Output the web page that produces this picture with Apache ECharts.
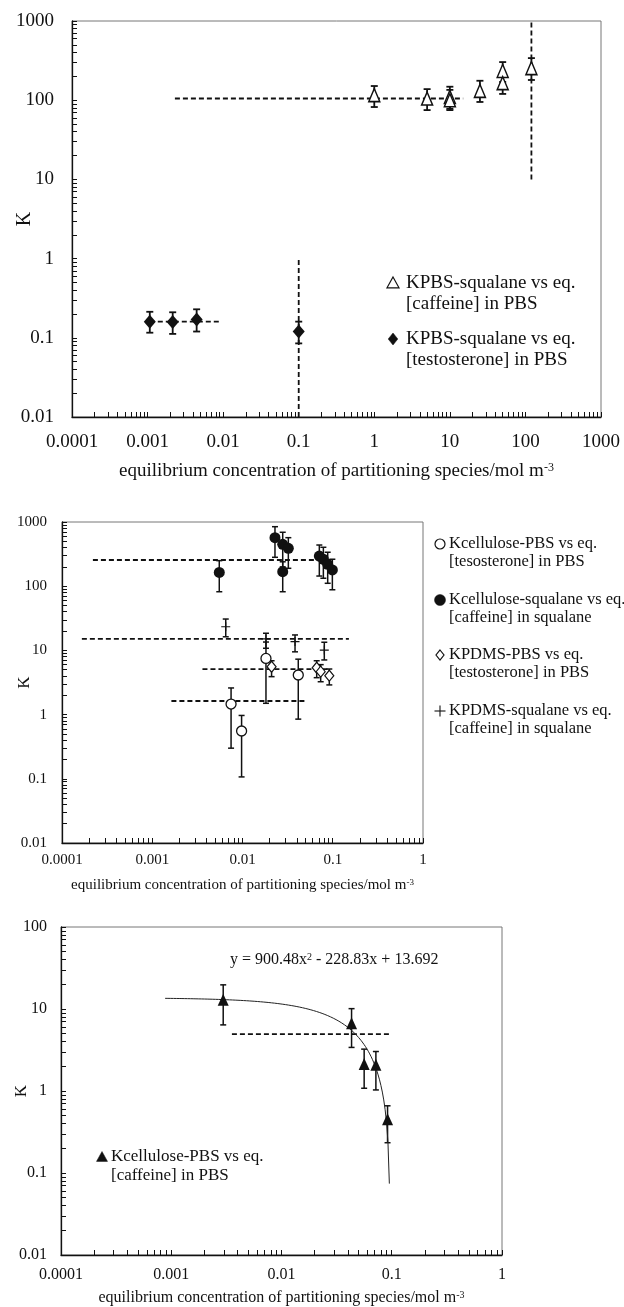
<!DOCTYPE html>
<html>
<head>
<meta charset="utf-8">
<script src="https://cdn.jsdelivr.net/npm/echarts@6/dist/echarts.min.js"></script>
<style>
  html, body { margin: 0; padding: 0; background: #fff; }
  #chart { width: 624px; height: 1307px; }
</style>
</head>
<body>
<div id="chart"></div>
<script>
// ---- Tick labels -------------------------------------------------------
const X1_LABELS = ['0.0001', '0.001', '0.01', '0.1', '1', '10', '100', '1000'];
const Y1_LABELS = ['0.01', '0.1', '1', '10', '100', '1000'];
const X2_LABELS = ['0.0001', '0.001', '0.01', '0.1', '1'];
const Y2_LABELS = ['0.01', '0.1', '1', '10', '100', '1000'];
const X3_LABELS = ['0.0001', '0.001', '0.01', '0.1', '1'];
const Y3_LABELS = ['0.01', '0.1', '1', '10', '100'];

// ---- Panel 1: K(PBS-squalane) ----  rows: [concentration, K, K low, K high]
const P1_CAFFEINE = [
  [1, 116, 82, 151],
  [5, 105, 75, 138],
  [10, 110, 78, 148],
  [10, 100, 75, 135],
  [25, 131, 95, 176],
  [50, 234, 170, 303],
  [50, 164, 120, 210],
  [120, 254, 180, 340]
];
const P1_TESTOSTERONE = [
  [0.00107, 0.160, 0.116, 0.213],
  [0.00215, 0.158, 0.112, 0.210],
  [0.00446, 0.170, 0.120, 0.229],
  [0.1, 0.120, 0.085, 0.160]
];
const P1_CAFFEINE_MEAN = [[0.0023, 105], [15, 105]];
const P1_TESTOSTERONE_MEAN = [[0.00107, 0.16], [0.009, 0.16]];
const P1_TESTOSTERONE_LIMIT = [[0.1, 0.01], [0.1, 1]];
const P1_CAFFEINE_LIMIT = [[120, 10], [120, 1000]];

// ---- Panel 2: cellulose and PDMS ----
const P2_CELL_PBS = [
  [0.00747, 1.46, 0.30, 2.6],
  [0.00977, 0.555, 0.107, 0.97],
  [0.0182, 7.5, 1.5, 13.5],
  [0.0415, 4.14, 0.85, 7.3]
];
const P2_CELL_SQUALANE = [
  [0.00553, 164, 82, 250],
  [0.0229, 570, 282, 845],
  [0.0279, 449, 200, 692],
  [0.0322, 389, 190, 570],
  [0.0279, 168, 82, 240],
  [0.071, 295, 144, 438],
  [0.0787, 263, 133, 404],
  [0.0879, 219, 111, 338],
  [0.099, 179, 88, 263]
];
const P2_PDMS_PBS = [
  [0.021, 5.57, 3.9, 6.9],
  [0.0664, 5.37, 3.76, 6.9],
  [0.0735, 4.67, 3.25, 6.0],
  [0.0916, 4.04, 2.9, 5.13]
];
const P2_PDMS_SQUALANE = [
  [0.00652, 23.4, 16.3, 30.8],
  [0.0182, 15.1, 10.8, 18.5],
  [0.0382, 13.7, 9.5, 17.4],
  [0.0806, 10.1, 7.1, 13.4]
];
const P2_CELL_SQUALANE_MEAN = [[0.00022, 256], [0.095, 256]];
const P2_PDMS_SQUALANE_MEAN = [[0.000166, 15.1], [0.151, 15.1]];
const P2_PDMS_PBS_MEAN = [[0.0036, 5.1], [0.094, 5.1]];
const P2_CELL_PBS_MEAN = [[0.00163, 1.63], [0.0506, 1.63]];

// ---- Panel 3: K(cellulose-PBS), caffeine ----
const P3_CELL_PBS = [
  [0.00296, 13.0, 6.4, 19.7],
  [0.0432, 6.7, 3.4, 10.1],
  [0.0562, 2.14, 1.08, 3.24],
  [0.0718, 2.09, 1.03, 3.03],
  [0.0916, 0.452, 0.234, 0.66]
];
const P3_MEAN = [[0.00355, 4.95], [0.0996, 4.95]];
// quadratic trendline y = a x^2 + b x + c, and the x span it covers
const P3_FIT = [900.48, -228.83, 13.692];
const P3_FIT_RANGE = [0.00088, 0.0951];

// ---- Shared styling ----------------------------------------------------
const FONT = '"Liberation Serif", "Times New Roman", Times, serif';
const INK = '#111';
const PLUS = 'path://M4.4,0h1.2v10h-1.2z M0,4.4h10v1.2h-10z';

function decadeTicks(labels) {
  const lo = Math.round(Math.log10(Number(labels[0])));
  const hi = Math.round(Math.log10(Number(labels[labels.length - 1])));
  const out = [];
  for (let e = lo; e < hi; e++) {
    for (let m = 1; m <= 9; m++) out.push(Number(m + 'e' + e));
  }
  out.push(Number('1e' + hi));
  return out;
}

function labelFor(labels) {
  const vals = labels.map(Number);
  return function (v) {
    const i = vals.findIndex(m => Math.abs(Math.log10(m / v)) < 1e-6);
    return i >= 0 ? labels[i] : '';
  };
}

function axisTitle(text, size) {
  return {
    name: '{t|' + text + '}{s|-3}',
    nameTextStyle: {
      rich: {
        t: { fontFamily: FONT, fontSize: size, color: INK },
        s: { fontFamily: FONT, fontSize: Math.round(size * 0.62), color: INK, verticalAlign: 'top' }
      }
    }
  };
}

function logAxis(gridIndex, labels, fontSize, margin, extra) {
  return Object.assign({
    type: 'log',
    logBase: 10,
    gridIndex: gridIndex,
    min: Number(labels[0]),
    max: Number(labels[labels.length - 1]),
    axisLine: { show: true, onZero: false, lineStyle: { color: INK, width: 1.3 } },
    axisTick: {
      show: true, inside: true, length: 5,
      customValues: decadeTicks(labels),
      lineStyle: { color: INK, width: 1 }
    },
    minorTick: { show: false },
    axisLabel: {
      customValues: labels.map(Number),
      formatter: labelFor(labels),
      fontFamily: FONT, fontSize: fontSize, color: INK, margin: margin
    },
    splitLine: { show: false },
    nameLocation: 'middle',
    nameMoveOverlap: false
  }, extra || {});
}

function errorBars(data, g, cap, width) {
  return {
    type: 'custom',
    xAxisIndex: g, yAxisIndex: g,
    z: 3,
    silent: true,
    encode: { x: 0, y: [1, 2] },
    data: data.map(r => [r[0], r[2], r[3]]),
    renderItem: function (params, api) {
      const lo = api.coord([api.value(0), api.value(1)]);
      const hi = api.coord([api.value(0), api.value(2)]);
      const st = { stroke: INK, lineWidth: width };
      return {
        type: 'group',
        children: [
          { type: 'line', shape: { x1: lo[0], y1: lo[1], x2: hi[0], y2: hi[1] }, style: st },
          { type: 'line', shape: { x1: lo[0] - cap, y1: lo[1], x2: lo[0] + cap, y2: lo[1] }, style: st },
          { type: 'line', shape: { x1: hi[0] - cap, y1: hi[1], x2: hi[0] + cap, y2: hi[1] }, style: st }
        ]
      };
    }
  };
}

function markers(data, g, symbol, size, filled, border) {
  return {
    type: 'scatter',
    xAxisIndex: g, yAxisIndex: g,
    z: 5,
    silent: true,
    symbol: symbol,
    symbolSize: size,
    data: data.map(r => [r[0], r[1]]),
    itemStyle: filled
      ? { color: INK, borderColor: INK, borderWidth: border || 0, opacity: 1 }
      : { color: '#fff', borderColor: INK, borderWidth: border || 1.3, opacity: 1 }
  };
}

function dashed(points, g, width) {
  return {
    type: 'line',
    xAxisIndex: g, yAxisIndex: g,
    z: 2,
    silent: true,
    showSymbol: false,
    data: points,
    lineStyle: { color: INK, width: width || 1.8, type: [5, 3] }
  };
}

function trendPoints() {
  const [a, b, c] = P3_FIT;
  const l0 = Math.log10(P3_FIT_RANGE[0]), l1 = Math.log10(P3_FIT_RANGE[1]);
  const pts = [];
  const n = 160;
  for (let i = 0; i <= n; i++) {
    const x = Math.pow(10, l0 + (l1 - l0) * i / n);
    pts.push([x, a * x * x + b * x + c]);
  }
  return pts;
}

// legend key shapes, centred on (x, y)
function keyShape(kind, x, y, s) {
  const h = s / 2;
  const open = { fill: '#fff', stroke: INK, lineWidth: 1.2 };
  const solid = { fill: INK, stroke: INK, lineWidth: 0.5 };
  switch (kind) {
    case 'triangle-open':
      return { type: 'polygon', shape: { points: [[x, y - h], [x + h, y + h * 0.8], [x - h, y + h * 0.8]] }, style: open };
    case 'triangle':
      return { type: 'polygon', shape: { points: [[x, y - h], [x + h, y + h * 0.8], [x - h, y + h * 0.8]] }, style: solid };
    case 'diamond':
      return { type: 'polygon', shape: { points: [[x, y - h], [x + h * 0.8, y], [x, y + h], [x - h * 0.8, y]] }, style: solid };
    case 'diamond-open':
      return { type: 'polygon', shape: { points: [[x, y - h], [x + h * 0.8, y], [x, y + h], [x - h * 0.8, y]] }, style: open };
    case 'circle':
      return { type: 'circle', shape: { cx: x, cy: y, r: h }, style: solid };
    case 'circle-open':
      return { type: 'circle', shape: { cx: x, cy: y, r: h }, style: open };
    default: // plus
      return {
        type: 'group', children: [
          { type: 'line', shape: { x1: x - h, y1: y, x2: x + h, y2: y }, style: { stroke: INK, lineWidth: 1.1 } },
          { type: 'line', shape: { x1: x, y1: y - h, x2: x, y2: y + h }, style: { stroke: INK, lineWidth: 1.1 } }
        ]
      };
  }
}

function legendEntry(x, y, kind, keySize, line1, line2, size, gap) {
  return [
    keyShape(kind, x, y, keySize),
    { type: 'text', x: x + gap, y: y, style: { text: line1, font: size + 'px ' + FONT, fill: INK, align: 'left', verticalAlign: 'middle' } },
    { type: 'text', x: x + gap, y: y + Math.round(size * 1.12), style: { text: line2, font: size + 'px ' + FONT, fill: INK, align: 'left', verticalAlign: 'middle' } }
  ];
}

const TITLE = 'equilibrium concentration of partitioning species/mol m';
const GRID_STYLE = { show: true, borderColor: '#777', borderWidth: 1, backgroundColor: 'transparent', outerBoundsMode: 'none', containLabel: false };

const option = {
  animation: false,
  backgroundColor: '#fff',
  grid: [
    Object.assign({ left: 72, top: 21, width: 529, height: 396 }, GRID_STYLE),
    Object.assign({ left: 62, top: 522, width: 361, height: 321 }, GRID_STYLE),
    Object.assign({ left: 61, top: 927, width: 441, height: 328 }, GRID_STYLE)
  ],
  xAxis: [
    logAxis(0, X1_LABELS, 19, 16, Object.assign({ nameGap: 45 }, axisTitle(TITLE, 19))),
    logAxis(1, X2_LABELS, 15, 10, Object.assign({ nameGap: 35 }, axisTitle(TITLE, 15))),
    logAxis(2, X3_LABELS, 16, 12, Object.assign({ nameGap: 35 }, axisTitle(TITLE, 16)))
  ],
  yAxis: [
    logAxis(0, Y1_LABELS, 19, 18, { name: 'K', nameGap: 37, nameRotate: 90, nameTextStyle: { fontFamily: FONT, fontSize: 20, color: INK } }),
    logAxis(1, Y2_LABELS, 15, 15, { name: 'K', nameGap: 29, nameRotate: 90, nameTextStyle: { fontFamily: FONT, fontSize: 17, color: INK } }),
    logAxis(2, Y3_LABELS, 16, 14, { name: 'K', nameGap: 31, nameRotate: 90, nameTextStyle: { fontFamily: FONT, fontSize: 17, color: INK } })
  ],
  series: [
    // panel 1
    dashed(P1_CAFFEINE_MEAN, 0),
    dashed(P1_TESTOSTERONE_MEAN, 0),
    dashed(P1_TESTOSTERONE_LIMIT, 0),
    dashed(P1_CAFFEINE_LIMIT, 0),
    errorBars(P1_CAFFEINE, 0, 3.5, 1.8),
    errorBars(P1_TESTOSTERONE, 0, 3.5, 1.8),
    markers(P1_CAFFEINE, 0, 'triangle', [11, 13], false, 1.5),
    markers(P1_TESTOSTERONE, 0, 'diamond', [12, 14], true),
    // panel 2
    dashed(P2_CELL_SQUALANE_MEAN, 1),
    dashed(P2_PDMS_SQUALANE_MEAN, 1),
    dashed(P2_PDMS_PBS_MEAN, 1),
    dashed(P2_CELL_PBS_MEAN, 1),
    errorBars(P2_CELL_SQUALANE, 1, 3, 1.5),
    errorBars(P2_PDMS_SQUALANE, 1, 3, 1.5),
    errorBars(P2_PDMS_PBS, 1, 3, 1.5),
    errorBars(P2_CELL_PBS, 1, 3, 1.5),
    markers(P2_CELL_SQUALANE, 1, 'circle', 11, true),
    markers(P2_PDMS_SQUALANE, 1, PLUS, 9, true),
    markers(P2_PDMS_PBS, 1, 'diamond', [9, 11], false, 1.2),
    markers(P2_CELL_PBS, 1, 'circle', 10, false, 1.3),
    // panel 3
    {
      type: 'line', xAxisIndex: 2, yAxisIndex: 2, z: 4, silent: true,
      showSymbol: false, data: trendPoints(),
      lineStyle: { color: '#222', width: 1 }
    },
    dashed(P3_MEAN, 2),
    errorBars(P3_CELL_PBS, 2, 3, 1.5),
    markers(P3_CELL_PBS, 2, 'triangle', [11, 12], true)
  ],
  graphic: [].concat(
    legendEntry(393, 283, 'triangle-open', 12, 'KPBS-squalane vs eq.', '[caffeine] in PBS', 19, 13),
    legendEntry(393, 339, 'diamond', 12, 'KPBS-squalane vs eq.', '[testosterone] in PBS', 19, 13),
    legendEntry(440, 544, 'circle-open', 10, 'Kcellulose-PBS vs eq.', '[tesosterone] in PBS', 16.5, 9),
    legendEntry(440, 600, 'circle', 11, 'Kcellulose-squalane vs eq.', '[caffeine] in squalane', 16.5, 9),
    legendEntry(440, 655, 'diamond-open', 10, 'KPDMS-PBS vs eq.', '[testosterone] in PBS', 16.5, 9),
    legendEntry(440, 711, 'plus', 11, 'KPDMS-squalane vs eq.', '[caffeine] in squalane', 16.5, 9),
    legendEntry(102, 1157, 'triangle', 11, 'Kcellulose-PBS vs eq.', '[caffeine] in PBS', 17, 9),
    [{
      type: 'text', x: 230, y: 960,
      style: {
        text: '{t|y = 900.48x}{s|2}{t| - 228.83x + 13.692}',
        rich: {
          t: { font: '16px ' + FONT, fill: INK },
          s: { font: '10px ' + FONT, fill: INK, verticalAlign: 'top' }
        },
        align: 'left', verticalAlign: 'middle'
      }
    }]
  )
};

const chart = echarts.init(document.getElementById('chart'), null, { renderer: 'canvas' });
chart.setOption(option);
</script>
</body>
</html>
